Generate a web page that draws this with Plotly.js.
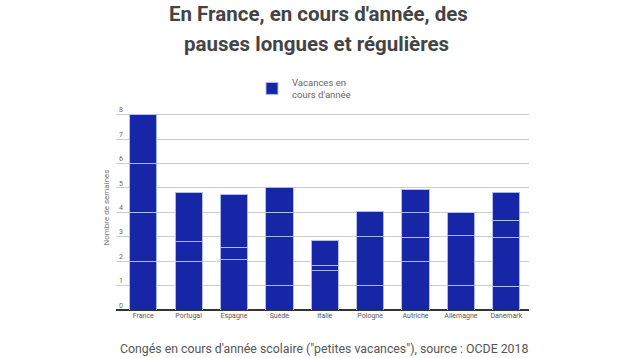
<!DOCTYPE html>
<html>
<head>
<meta charset="utf-8">
<script src="https://cdn.plot.ly/plotly-3.0.1.min.js"></script>
<style>html,body{margin:0;padding:0;background:#fff;}#chart{width:636px;height:358px;}</style>
</head>
<body>
<div id="chart"></div>
<script>
const countries = ["France","Portugal","Espagne","Suède","Italie","Pologne","Autriche","Allemagne","Danemark"];
// Stacked segments (weeks of each holiday period), bottom to top
const seg1 = [2, 2.0, 2.06, 1, 1.6, 1, 1.98, 1, 0.97];
const seg2 = [2, 0.79, 0.52, 2, 0.24, 2, 1.0, 2.05, 2.0];
const seg3 = [2, 2.04, 2.15, 1, 1.0, 1.02, 1.0, 0.95, 0.71];
const seg4 = [2, 0, 0, 1.03, 0, 0, 0.94, 0, 1.15];
const yTicks = [0,1,2,3,4,5,6,7,8];
const legendName = "Vacances en<br>cours d'année";

const barColor = "#1626a6";
const sepColor = "rgba(175,190,235,0.95)";
const segs = [seg1, seg2, seg3, seg4];
const traces = segs.map((s, i) => ({
  type: "bar",
  x: countries,
  y: s,
  name: legendName,
  showlegend: i === 0,
  marker: {color: barColor, line: {color: sepColor, width: 1}},
  hoverinfo: "skip"
}));

const W = 636, H = 358;
const mL = 116, mR = 107, mT = 104.5, mB = 48;
const layout = {
  width: W, height: H,
  paper_bgcolor: "#fff", plot_bgcolor: "#fff",
  margin: {l: mL, r: mR, t: mT, b: mB},
  barmode: "stack",
  bargap: 0.4,
  font: {family: "Roboto, Arial, sans-serif", color: "#555"},
  showlegend: true,
  legend: {
    xanchor: "left", yanchor: "top",
    orientation: "h",
    font: {size: 9.5, color: "#666"},
    bgcolor: "rgba(0,0,0,0)"
  },
  xaxis: {
    type: "category",
    range: [-0.6, 8.5],
    showgrid: false,
    showline: false,
    zeroline: false,
    ticks: "",
    tickfont: {size: 7, color: "#555"},
    fixedrange: true
  },
  yaxis: {
    range: [0, 8.4],
    tickvals: yTicks,
    ticktext: yTicks.map(String),
    ticklabelposition: "inside top",
    tickfont: {size: 7, color: "#666"},
    showgrid: true,
    gridcolor: "#cccccc",
    gridwidth: 1,
    zeroline: true,
    zerolinecolor: "#333",
    zerolinewidth: 2,
    showline: false,
    ticks: "",
    title: {text: "Nombre de semaines", font: {size: 8, color: "#777"}, standoff: 8},
    fixedrange: true
  },
  annotations: []
};

const plotH = H - mT - mB;
const plotW = W - mL - mR;
function py(pixY) { return (H - mB - pixY) / plotH; }
function px(pixX) { return (pixX - mL) / plotW; }
const titleFont = {size: 20.5, color: "#444", family: "Roboto, Arial, sans-serif"};
layout.annotations.push({text: "<b>En France, en cours d'année, des</b>", xref: "paper", yref: "paper",
  x: px(318), y: py(13), xanchor: "center", yanchor: "middle", showarrow: false, font: titleFont});
layout.annotations.push({text: "<b>pauses longues et régulières</b>", xref: "paper", yref: "paper",
  x: px(316), y: py(43), xanchor: "center", yanchor: "middle", showarrow: false, font: titleFont});
layout.annotations.push({text: "Congés en cours d'année scolaire (\"petites vacances\"), source : OCDE 2018",
  xref: "paper", yref: "paper", x: px(324), y: py(349), xanchor: "center", yanchor: "middle",
  showarrow: false, font: {size: 12.3, color: "#555", family: "Roboto, Arial, sans-serif"}});
layout.legend.x = px(252);
layout.legend.y = py(69);

Plotly.newPlot("chart", traces, layout, {displayModeBar: false, staticPlot: true});
</script>
</body>
</html>
